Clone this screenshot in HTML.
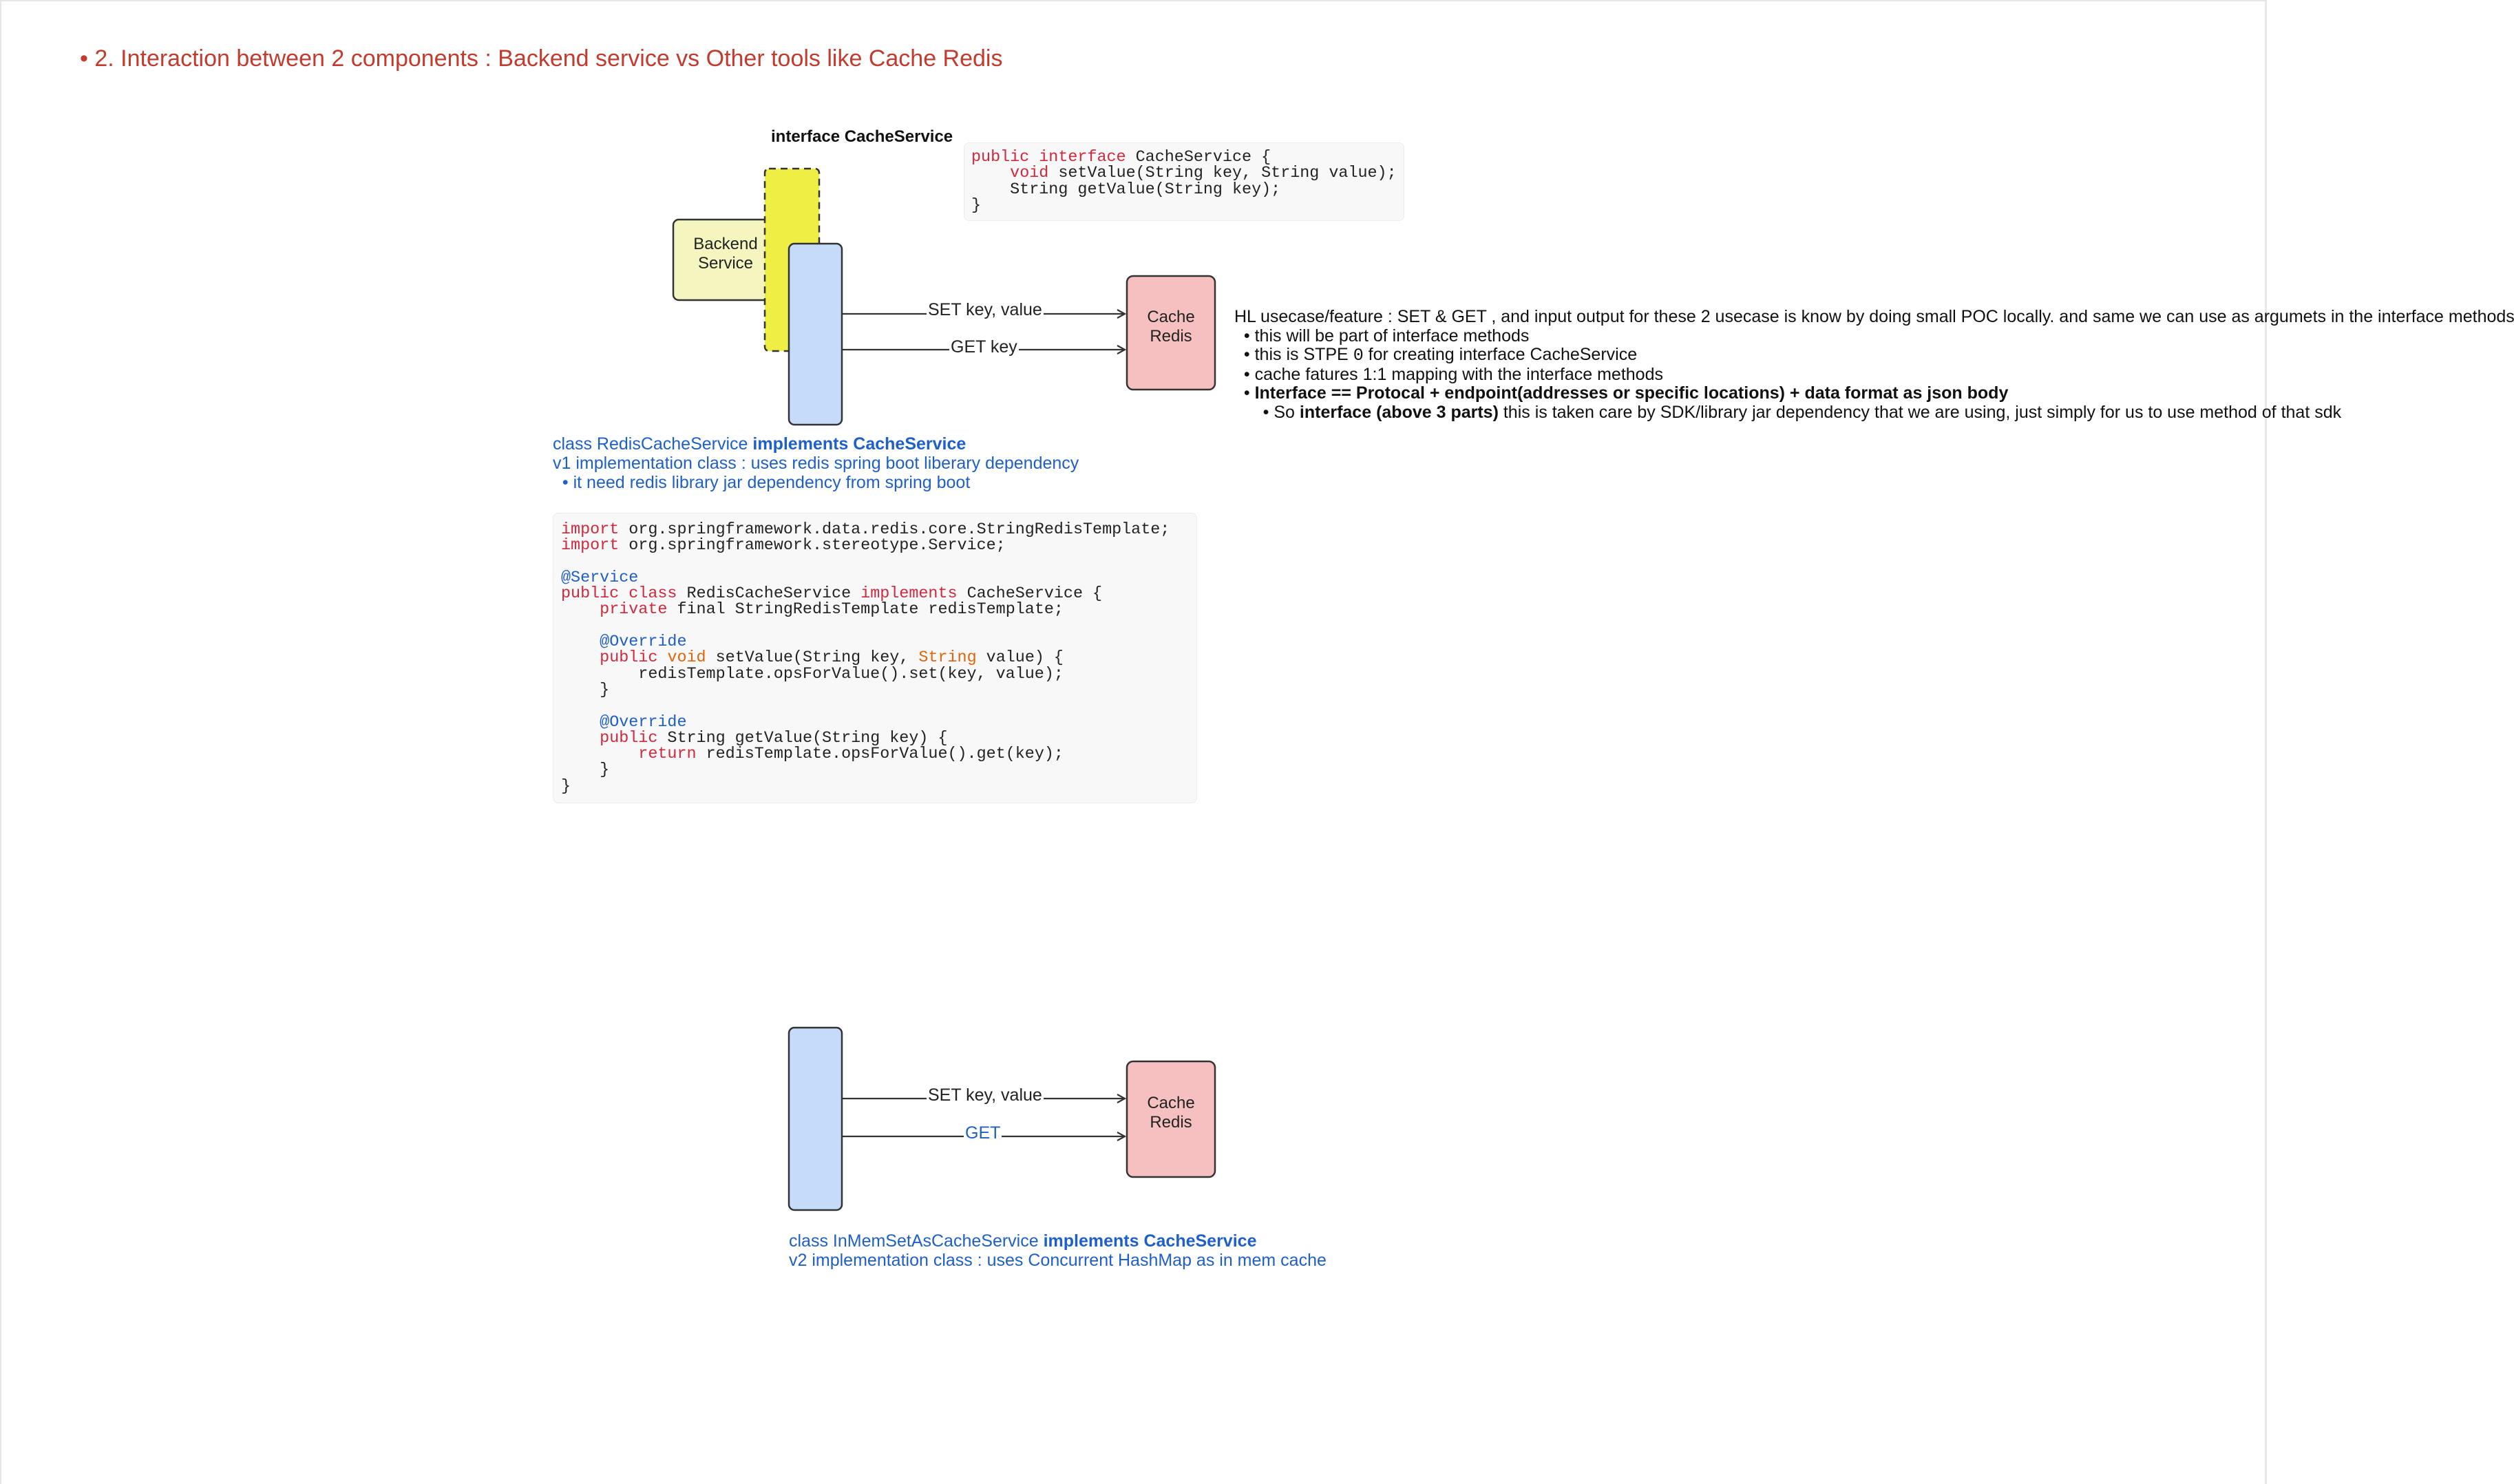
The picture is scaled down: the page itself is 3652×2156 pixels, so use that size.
<!DOCTYPE html>
<html><head><meta charset="utf-8"><style>
html,body{margin:0;padding:0;background:#fff;}
body{width:3652px;height:2156px;position:relative;overflow:hidden;font-family:"Liberation Sans",sans-serif;}
.t{position:absolute;white-space:nowrap;}
pre{margin:0;font-family:"Liberation Mono",monospace;font-size:23.4px;line-height:23.3px;color:#222;position:absolute;}
.k{color:#d0283c}.a{color:#1f5fc2}.o{color:#e0650a}
.code{position:absolute;background:#f8f8f8;border:1px solid #ececec;border-radius:8px;}
.blue{color:#1f5fc8;}
</style></head><body>
<div style="position:absolute;left:0;top:0;width:3293px;height:2156px;border-left:2px solid #e6e6e6;border-top:2px solid #e6e6e6;border-right:3px solid #e8e8e8;box-sizing:border-box"></div>

<div class="t" style="left:116px;top:66px;font-size:34px;color:#c23b2f;">• 2. Interaction between 2 components : Backend service vs Other tools like Cache Redis</div>

<div class="t" style="left:1120px;top:185px;font-size:24px;font-weight:bold;color:#111;">interface CacheService</div>

<svg width="3652" height="2156" style="position:absolute;left:0;top:0">
<defs><marker id="ar" markerWidth="14" markerHeight="14" refX="12" refY="7" orient="auto" markerUnits="userSpaceOnUse"><path d="M1,1 L12,7 L1,13" fill="none" stroke="#333" stroke-width="2.2"/></marker></defs>
<rect x="978" y="319" width="140" height="117" rx="8" fill="#f5f5c0" stroke="#333" stroke-width="2.5"/>
<rect x="1111" y="245" width="79" height="265" rx="6" fill="#eeee45" stroke="#333" stroke-width="2.5" stroke-dasharray="10 7"/>
<rect x="1146" y="354" width="77" height="263" rx="8" fill="#c6dafa" stroke="#333" stroke-width="2.5"/>
<rect x="1637" y="401" width="128" height="165" rx="9" fill="#f6c0c0" stroke="#333" stroke-width="2.5"/>
<line x1="1223" y1="456" x2="1634" y2="456" stroke="#333" stroke-width="2.2" marker-end="url(#ar)"/>
<line x1="1223" y1="508" x2="1634" y2="508" stroke="#333" stroke-width="2.2" marker-end="url(#ar)"/>
<rect x="1146" y="1493" width="77" height="265" rx="8" fill="#c6dafa" stroke="#333" stroke-width="2.5"/>
<rect x="1637" y="1542" width="128" height="168" rx="9" fill="#f6c0c0" stroke="#333" stroke-width="2.5"/>
<line x1="1223" y1="1596" x2="1634" y2="1596" stroke="#333" stroke-width="2.2" marker-end="url(#ar)"/>
<line x1="1223" y1="1651" x2="1634" y2="1651" stroke="#333" stroke-width="2.2" marker-end="url(#ar)"/>
</svg>

<div class="t" style="left:984px;top:341px;width:140px;text-align:center;font-size:24px;line-height:28px;color:#222">Backend<br>Service</div>
<div class="t" style="left:1637px;top:447px;width:128px;text-align:center;font-size:24px;line-height:28px;color:#222">Cache<br>Redis</div>
<div class="t" style="left:1637px;top:1589px;width:128px;text-align:center;font-size:24px;line-height:28px;color:#222">Cache<br>Redis</div>

<div class="t" style="left:1346px;top:436px;font-size:25px;background:#fff;padding:0 2px;color:#222">SET key, value</div>
<div class="t" style="left:1379px;top:490px;font-size:25px;background:#fff;padding:0 2px;color:#222">GET key</div>
<div class="t" style="left:1346px;top:1577px;font-size:25px;background:#fff;padding:0 2px;color:#222">SET key, value</div>
<div class="t" style="left:1400px;top:1632px;font-size:25px;background:#fff;padding:0 2px;color:#1f5fc8">GET</div>

<div class="code" style="left:1400px;top:207px;width:638px;height:112px;"></div>
<pre style="left:1411px;top:218px;"><span class="k">public interface</span> CacheService {
    <span class="k">void</span> setValue(String key, String value);
    String getValue(String key);
}</pre>

<div class="t" style="left:1793px;top:447px;font-size:25px;line-height:27.5px;color:#111">HL usecase/feature : SET &amp; GET , and input output for these 2 usecase is know by doing small POC locally. and same we can use as argumets in the interface methods<br>
&nbsp;&nbsp;• this will be part of interface methods<br>
&nbsp;&nbsp;• this is STPE <span style="font-family:'Liberation Mono',monospace">0</span> for creating interface CacheService<br>
&nbsp;&nbsp;• cache fatures 1:1 mapping with the interface methods<br>
&nbsp;&nbsp;• <b>Interface == Protocal + endpoint(addresses or specific locations) + data format as json body</b><br>
&nbsp;&nbsp;&nbsp;&nbsp;&nbsp;&nbsp;• So <b>interface (above 3 parts)</b> this is taken care by SDK/library jar dependency that we are using, just simply for us to use method of that sdk</div>

<div class="t blue" style="left:803px;top:631px;font-size:25px;line-height:28px;">class RedisCacheService <b>implements CacheService</b><br>v1 implementation class : uses redis spring boot liberary dependency<br>&nbsp;&nbsp;• it need redis library jar dependency from spring boot</div>

<div class="code" style="left:803px;top:745px;width:934px;height:420px;"></div>
<pre style="left:815px;top:759px;"><span class="k">import</span> org.springframework.data.redis.core.StringRedisTemplate;
<span class="k">import</span> org.springframework.stereotype.Service;

<span class="a">@Service</span>
<span class="k">public class</span> RedisCacheService <span class="k">implements</span> CacheService {
    <span class="k">private</span> final StringRedisTemplate redisTemplate;

    <span class="a">@Override</span>
    <span class="k">public</span> <span class="o">void</span> setValue(String key, <span class="o">String</span> value) {
        redisTemplate.opsForValue().set(key, value);
    }

    <span class="a">@Override</span>
    <span class="k">public</span> String getValue(String key) {
        <span class="k">return</span> redisTemplate.opsForValue().get(key);
    }
}</pre>

<div class="t blue" style="left:1146px;top:1789px;font-size:25px;line-height:28px;">class InMemSetAsCacheService <b>implements CacheService</b><br>v2 implementation class : uses Concurrent HashMap as in mem cache</div>
</body></html>
